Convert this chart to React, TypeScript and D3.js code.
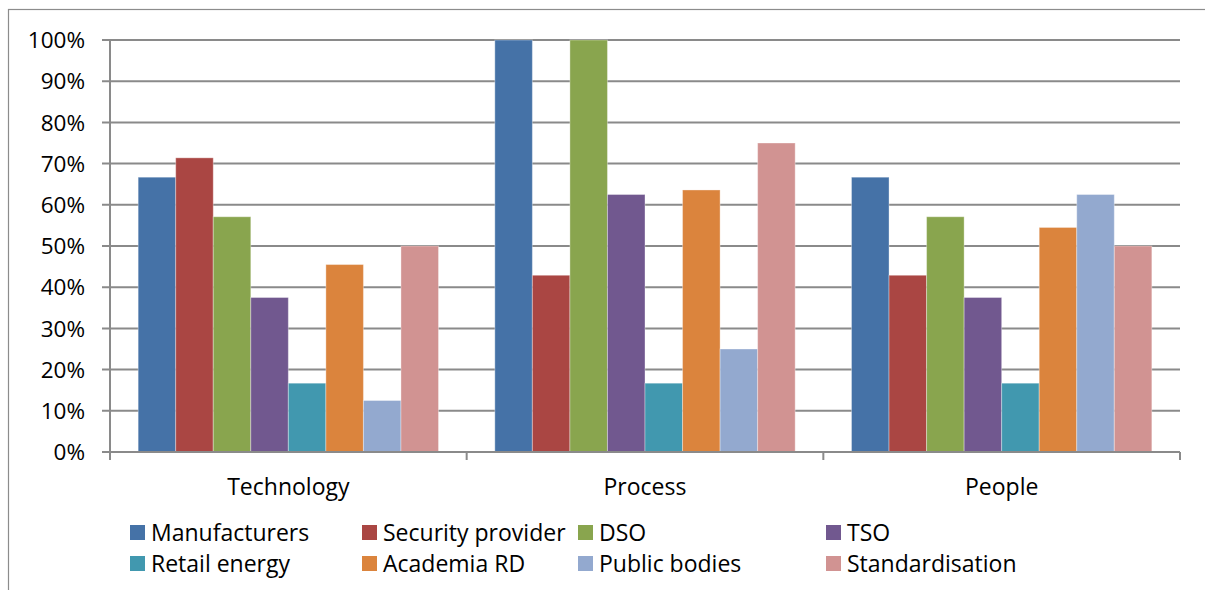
import React from "react";
import * as d3 from "d3";

const categories = ["Technology", "Process", "People"];
const seriesNames = [
  "Manufacturers",
  "Security provider",
  "DSO",
  "TSO",
  "Retail energy",
  "Academia RD",
  "Public bodies",
  "Standardisation",
];
const manufacturers = [0.667, 1.0, 0.667];
const securityProvider = [0.714, 0.429, 0.429];
const dso = [0.571, 1.0, 0.571];
const tso = [0.375, 0.625, 0.375];
const retailEnergy = [0.167, 0.167, 0.167];
const academiaRD = [0.455, 0.636, 0.545];
const publicBodies = [0.125, 0.25, 0.625];
const standardisation = [0.5, 0.75, 0.5];
const yTicks = [0, 0.1, 0.2, 0.3, 0.4, 0.5, 0.6, 0.7, 0.8, 0.9, 1.0];
const colors = ["#4572A7", "#AA4643", "#89A54E", "#71588F", "#4198AF", "#DB843D", "#93A9CF", "#D19392"];

const seriesValues = [
  manufacturers,
  securityProvider,
  dso,
  tso,
  retailEnergy,
  academiaRD,
  publicBodies,
  standardisation,
];

const W = 1205;
const H = 590;
const plot = { left: 110, right: 1180, top: 40, bottom: 452 };
const FONT = "'Open Sans', sans-serif";

export default function App() {
  const x0 = d3.scaleBand<string>().domain(categories).range([plot.left, plot.right]).paddingInner(0).paddingOuter(0);
  const catW = x0.bandwidth();
  // bars within each category, 150% gap split across both sides
  const x1 = d3
    .scaleBand<string>()
    .domain(seriesNames)
    .range([0, catW])
    .paddingInner(0)
    .paddingOuter(0.75);
  const y = d3.scaleLinear().domain([0, 1]).range([plot.bottom, plot.top]);
  const fmt = d3.format(".0%");

  const legendCols = [130, 362, 578, 826];
  const legendRows = [533, 564];

  return (
    <svg width={W} height={H} style={{ position: "absolute", left: 0, top: 0, background: "#fff" }}>
      {/* outer chart border */}
      <rect x={8.5} y={9.5} width={W + 10} height={H + 10} fill="none" stroke="#8c8c8c" strokeWidth={1.2} />

      {/* horizontal gridlines and y ticks */}
      {yTicks.map((t) => (
        <g key={t}>
          <line x1={plot.left - 8} x2={plot.right} y1={y(t)} y2={y(t)} stroke="#8a8a8a" strokeWidth={2} />
          <text
            x={85}
            y={y(t)}
            dy="0.36em"
            textAnchor="end"
            fontFamily={FONT}
            fontSize={22.5}
            fill="#000"
          >
            {fmt(t)}
          </text>
        </g>
      ))}

      {/* y axis line */}
      <line x1={plot.left} x2={plot.left} y1={plot.top} y2={plot.bottom} stroke="#8a8a8a" strokeWidth={2} />

      {/* category tick marks */}
      {[...categories.map((c) => x0(c) as number), plot.right].map((v, i) => (
        <line key={i} x1={v} x2={v} y1={plot.bottom} y2={plot.bottom + 8} stroke="#8a8a8a" strokeWidth={2} />
      ))}

      {/* bars */}
      {categories.map((c, ci) =>
        seriesNames.map((s, si) => {
          const v = seriesValues[si][ci];
          const bx = (x0(c) as number) + (x1(s) as number);
          return (
            <rect
              key={c + s}
              x={bx}
              y={y(v)}
              width={x1.bandwidth()}
              height={plot.bottom - y(v)}
              fill={colors[si]}
              stroke="#ffffff"
              strokeOpacity={0.35}
              strokeWidth={1}
            />
          );
        })
      )}

      {/* x axis line */}
      <line x1={plot.left - 8} x2={plot.right} y1={plot.bottom} y2={plot.bottom} stroke="#8a8a8a" strokeWidth={2} />

      {/* category labels */}
      {categories.map((c) => (
        <text
          key={c}
          x={(x0(c) as number) + catW / 2}
          y={487}
          dy="0.36em"
          textAnchor="middle"
          fontFamily={FONT}
          fontSize={23}
          fill="#000"
        >
          {c}
        </text>
      ))}

      {/* legend */}
      {seriesNames.map((s, i) => {
        const col = i % 4;
        const row = Math.floor(i / 4);
        const lx = legendCols[col];
        const ly = legendRows[row];
        return (
          <g key={s}>
            <rect x={lx} y={ly - 8} width={15} height={15} fill={colors[i]} />
            <text x={lx + 21} y={ly} dy="0.36em" fontFamily={FONT} fontSize={23} fill="#000">
              {s}
            </text>
          </g>
        );
      })}
    </svg>
  );
}
